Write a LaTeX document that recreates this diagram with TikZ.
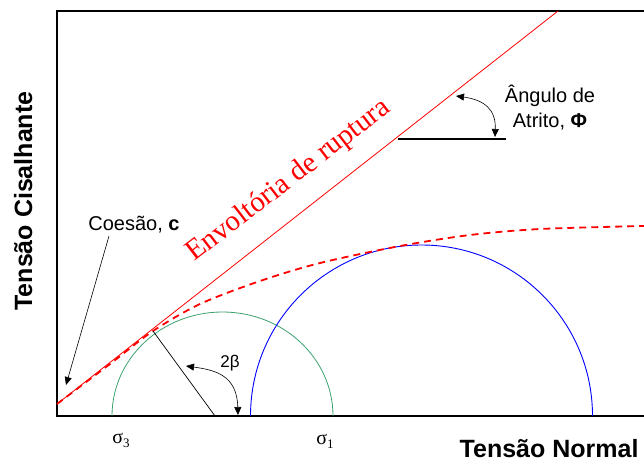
\documentclass[tikz,border=0pt]{standalone}
\usepackage{fontspec}
\setmainfont{Liberation Sans}
\newfontfamily\timesfont{Liberation Serif}
\usetikzlibrary{arrows.meta}

\definecolor{mohrgreen}{RGB}{60,160,110}
\definecolor{mohrblue}{RGB}{0,0,255}
\definecolor{envred}{RGB}{255,0,0}

\tikzset{
  frameline/.style={line width=1.6pt},
  pointer/.style={-{Triangle[length=8pt,width=7pt]}, line width=0.6pt},
  pointers/.style={{Triangle[length=8pt,width=7pt]}-{Triangle[length=8pt,width=7pt]}, line width=0.6pt},
  axislabel/.style={font=\bfseries\fontsize{25}{25}\selectfont},
  notelabel/.style={font=\fontsize{20}{20}\selectfont},
  sigmalabel/.style={font=\timesfont\fontsize{20}{20}\selectfont},
}

\begin{document}
\begin{tikzpicture}[x=1pt, y=-1pt]
\useasboundingbox (0,0) rectangle (644,461);
% eixos
\coordinate (topL) at (57,11);
\coordinate (topR) at (644,11);
\coordinate (orig) at (57,416);
\coordinate (botR) at (644,416);
\draw[frameline] (topR) -- (topL) -- (orig) -- (botR);
% circulos de Mohr
\draw[mohrgreen, line width=0.8pt] (112,416) arc[start angle=180, end angle=360, x radius=110.5, y radius=104];
\draw[mohrblue, line width=0.9pt] (250.5,416) arc[start angle=180, end angle=360, radius=171];
% envoltoria
\coordinate (envA) at (57,404);
\coordinate (envB) at (558,11);
\draw[envred, line width=0.8pt] (envA) -- (envB);
\draw[envred, line width=1.8pt, dash pattern=on 7pt off 5pt]
  plot[smooth] coordinates {(57,404) (110,364) (153,331) (200,304) (260,281) (320,263) (400,246) (470,235) (540,229) (644,226)};
\node[envred, font=\timesfont\fontsize{29}{29}\selectfont, rotate=37.5, anchor=base west] (env) at (192,264) {Envoltória de ruptura};
% angulo de atrito
\coordinate (phiL) at (398,139);
\coordinate (phiR) at (506,139);
\draw[line width=1.4pt] (phiL) -- (phiR);
\coordinate (phiTop) at (456,96);
\coordinate (phiBot) at (495,137);
\draw[pointers] (phiTop) .. controls (485,100) and (496,110) .. (phiBot);
\node[notelabel, anchor=base] (ang1) at (550,102) {Ângulo de};
\node[notelabel, anchor=base] (ang2) at (550,127) {Atrito, \textbf{Φ}};
% coesao
\node[notelabel, anchor=base] (coes) at (134,230) {Coesão, \textbf{c}};
\coordinate (coesTip) at (66,385);
\draw[pointer] (109,236) -- (coesTip);
% raio e 2 beta
\coordinate (tang) at (153,331);
\coordinate (radEnd) at (215,416);
\draw[line width=0.7pt] (tang) -- (radEnd);
\coordinate (betaL) at (186,366);
\coordinate (betaB) at (238,415);
\draw[pointers] (betaL) .. controls (215,370) and (237,375) .. (betaB);
\node[font=\fontsize{17}{17}\selectfont] (beta) at (230,363) {2β};
% tensoes
\node[sigmalabel] (s3) at (121,440) {σ\raisebox{-4pt}{\fontsize{13}{13}\selectfont 3}};
\node[sigmalabel] (s1) at (325,441) {σ\raisebox{-4pt}{\fontsize{13}{13}\selectfont 1}};
\node[axislabel, anchor=base east] (xlab) at (642,457) {Tensão Normal};
\node[axislabel, rotate=90, anchor=base] (ylab) at (32,201) {Tensão Cisalhante};
\end{tikzpicture}
\end{document}
